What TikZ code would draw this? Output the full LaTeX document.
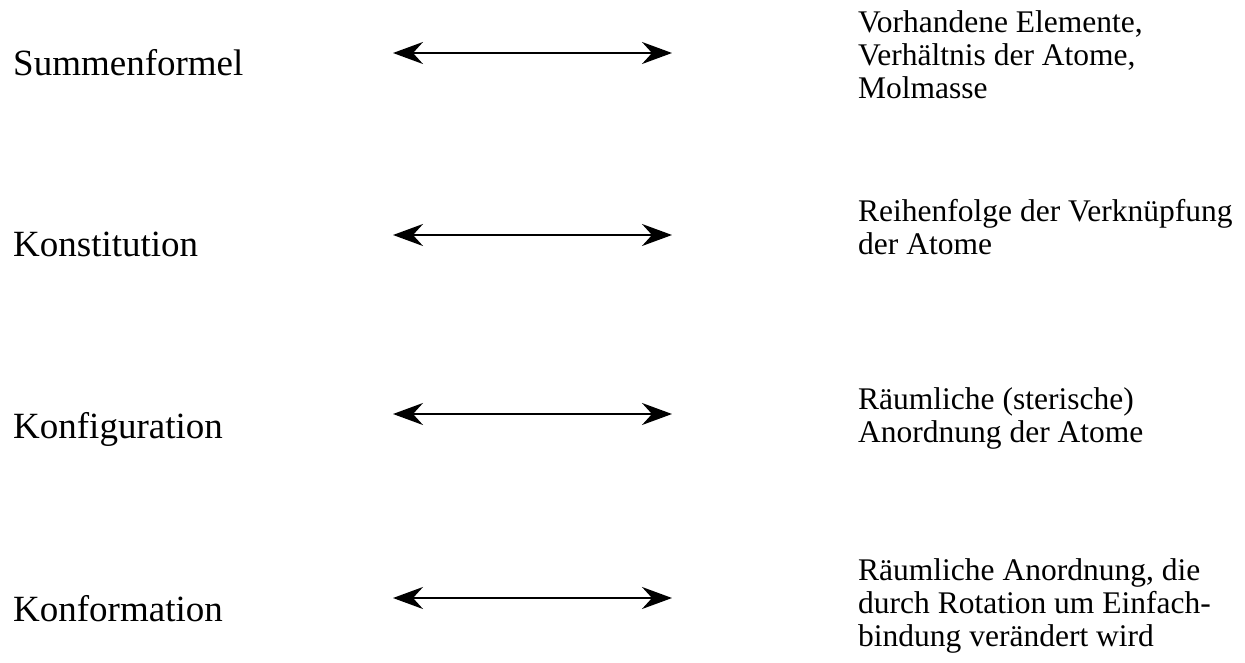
\documentclass[tikz,border=0pt]{standalone}
\usepackage{fontspec}
\setmainfont{Liberation Serif}
\usetikzlibrary{positioning}
\usetikzlibrary{arrows.meta}

\begin{document}
\begin{tikzpicture}[x=1pt,y=-1pt]

            \tikzstyle{levelLabel} = [anchor=base west, inner sep=0pt, font=\fontsize{37}{40}\selectfont];
            \tikzstyle{levelInfo} = [anchor=base west, inner sep=0pt, align=left, font=\fontsize{31.5}{33}\selectfont];
            \tikzstyle{bothEdge} = [line width=2pt, {Stealth[length=30pt,width=22pt,inset=10pt]}-{Stealth[length=30pt,width=22pt,inset=10pt]}];

            \useasboundingbox (0,0) rectangle (1245,662);

            \node[levelLabel] (summe) at (13,75) {Summenformel};
            \node[levelLabel] (konst) at (13,256) {Konstitution};
            \node[levelLabel] (konfig) at (13,438) {Konfiguration};
            \node[levelLabel] (konform) at (13,621) {Konformation};

            \coordinate (summeL) at (393,53);
            \coordinate (summeR) at (672,53);
            \coordinate (konstL) at (393,235);
            \coordinate (konstR) at (672,235);
            \coordinate (konfigL) at (393,414);
            \coordinate (konfigR) at (672,414);
            \coordinate (konformL) at (393,598);
            \coordinate (konformR) at (672,598);

            % base anchor sits on the last line
            \node[levelInfo] (summeInfo) at (858,98) {Vorhandene Elemente,\\Verhältnis der Atome,\\Molmasse};
            \node[levelInfo] (konstInfo) at (858,254) {Reihenfolge der Verknüpfung\\der Atome};
            \node[levelInfo] (konfigInfo) at (858,442) {Räumliche (sterische)\\Anordnung der Atome};
            \node[levelInfo] (konformInfo) at (858,646) {Räumliche Anordnung, die\\durch Rotation um Einfach-\\bindung verändert wird};

            \draw[bothEdge] (summeL) -- (summeR);
            \draw[bothEdge] (konstL) -- (konstR);
            \draw[bothEdge] (konfigL) -- (konfigR);
            \draw[bothEdge] (konformL) -- (konformR);
          \end{tikzpicture}
\end{document}
